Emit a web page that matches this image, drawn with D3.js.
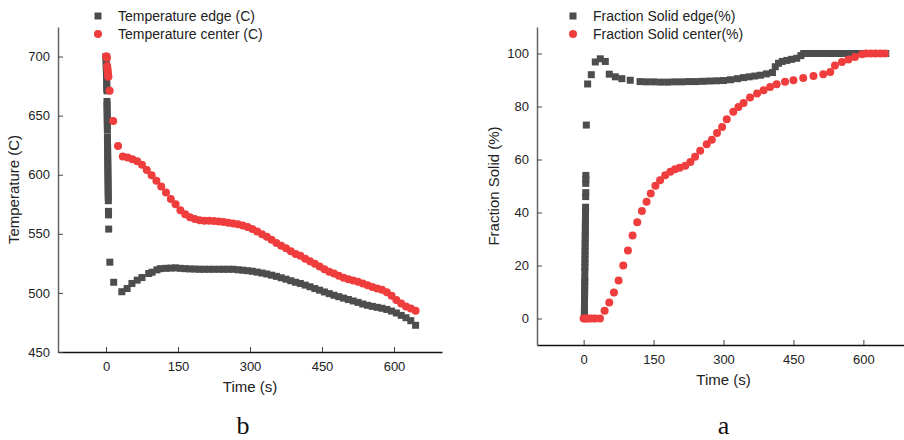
<!DOCTYPE html>
<meta charset="utf-8">
<script src="https://d3js.org/d3.v7.min.js"></script>
<style>
body { margin: 0; background: #fff; }
text { font-family: "Liberation Sans", Arial, sans-serif; fill: #222; }
.panel-tag { font-family: "Liberation Serif", "Times New Roman", serif; font-size: 26px; fill: #111; }
</style>
<body>
<svg id="chart" width="904" height="440"></svg>
<script>

// time (s), temperature (C) ------------------------------------
var tempEdge = [
  [0.0,700],[0.2,697],[0.4,694],[0.6,691],[0.8,688],[1.0,685],[1.2,682],[1.4,679],[1.6,676],[1.8,673],[2.0,671],
  [2.1,662],[2.2,659],[2.3,656],[2.4,653],[2.5,650],[2.6,647],[2.7,644],[2.8,641],[2.9,638],
  [3.0,632],[3.1,629],[3.2,626],[3.3,623],[3.4,620],[3.5,617],[3.6,614],[3.7,611],[3.8,608],[3.9,605],
  [4.0,602],[4.1,599],[4.2,596],[4.3,593],[4.4,590],[4.5,587],[4.6,584],[4.7,581],
  [4.9,578],[5.1,569],[5.3,566],[5.6,554],[8,526],[16,509],[33,501],
  [44,503.7],[54,508],[65,510.8],[75,513],[89,516.4],[96,517.5],[106,519.5],[113,520.5],[125,520.8],[135,521],
  [145,521.2],[155,520.8],[165,520.5],[175,520.3],[185,520.2],[195,520],[205,520],[215,520],[225,520],
  [235,520],[245,520],[255,520],[265,520],[275,519.6],[285,519.2],[295,518.8],[305,518.3],[315,517.6],
  [325,516.8],[335,516],[345,515],[355,514],[365,512.8],[375,511.6],[385,510.3],[395,509],[405,508],
  [415,506.6],[425,505.2],[435,503.7],[445,502.3],[455,500.8],[465,499.4],[475,498],[485,496.8],
  [495,495.6],[505,494.4],[515,493.2],[525,492],[535,490.6],[545,489.5],[555,488.6],[565,487.8],
  [575,487],[585,486],[595,484.6],[605,483],[615,481],[625,479],[635,476.5],[645,472.6]
];
var tempCenter = [
  [0,700],[1,700],[2,699],[2.5,692],[3,690],[3.5,688],[4,686],[4.5,684],[5,683],
  [7.5,671],[15,645.5],[25,624.3],[35,615.5],[45,614.5],[55,613.2],[65,611.5],[75,608.5],[85,604],
  [95,599.5],[105,595],[115,590],[125,585],[135,579.5],[145,575],[155,570],[165,566.5],[175,564],
  [185,562.5],[195,561.5],[205,561],[215,561],[225,560.8],[235,560.4],[245,560],[255,559.4],[265,558.8],
  [275,558],[285,557],[295,555.8],[305,554],[315,552],[325,549.7],[335,547.5],[345,545],[355,542.3],
  [365,540],[375,537.7],[385,535.3],[395,533],[405,531.5],[415,529],[425,526.7],[435,524.6],[445,522.4],
  [455,520],[465,518],[475,516.4],[485,514.5],[495,512.8],[505,511.5],[515,510.4],[525,509.4],[535,508],
  [545,506.5],[555,505],[565,503.7],[575,502.7],[585,500.5],[595,497.5],[605,494],[615,491],[625,488.5],
  [635,486.8],[645,484.8]
];

// time (s), fraction solid (%) ---------------------------------
var fracEdge = [
  [1.5,0.5],[1.6,2],[1.7,3.5],[1.8,5],[1.9,6.5],[2.0,8],[2.1,9.5],[2.2,11],[2.3,12.5],[2.4,14],[2.5,15.5],
  [2.6,18],[2.7,19.5],[2.8,21],[2.9,22.5],[3.0,24],[3.1,25.5],[3.2,27],[3.3,28.5],[3.4,30],[3.5,31.5],
  [3.6,33],[3.7,34.5],[3.8,36],[3.9,37.5],[4.0,39],[4.1,40.5],[4.2,42],[4.4,46],[4.5,47.5],
  [4.6,51],[4.7,52.5],[4.8,54],[5.8,73],[8.6,88.5],[16.5,92],[25,96.8],[35.7,98],[46.5,97],
  [55,92.2],[68,91.2],[82,90.5],[100,89.9],[121,89.4],[135,89.3],[150,89.3],[165,89.2],[180,89.2],
  [195,89.3],[210,89.3],[225,89.4],[240,89.4],[255,89.5],[270,89.6],[285,89.7],[300,89.8],[315,90.1],
  [330,90.5],[343,90.9],[355,91.2],[367,91.5],[379,91.8],[392,92.3],[405,92.8],[411,95],[418,96.3],
  [426,97],[436,97.4],[446,97.8],[457,98.2],[466,99.2],[472,100],[482,100],[492,100],[502,100],[512,100],
  [522,100],[532,100],[542,100],[552,100],[562,100],[572,100],[582,100],[592,100],[602,100],[612,100],
  [622,100],[632,100],[642,100],[648,100]
];
var fracCenter = [
  [0,0],[3,0],[7,0],[12,0],[18,0],[25,0],[35,0],[45,2.9],[55,6],[65,9.8],[75,14.3],[85,20],[95,25.7],
  [105,31.3],[115,36.3],[125,40.6],[135,44.1],[144,47.2],[154,50.1],[164,52.2],[175,54.1],[186,55.4],
  [196,56.3],[206,56.9],[218,57.6],[229,59.1],[239,61],[250,63.3],[264,65.8],[275,67.5],[286,70],
  [297,72.3],[307,75.2],[321,78],[332,79.8],[343,81.3],[357,83.4],[372,84.9],[386,86.1],[400,87.4],
  [414,88.4],[432,89.3],[450,89.9],[471,90.8],[493,91.5],[514,92.2],[529,93],[539,95.5],[554,96.8],
  [568,97.7],[582,98.7],[597,99.7],[606,100],[616,100],[626,100],[636,100],[646,100]
];

var xTicks = [0, 150, 300, 450, 600];
var tempTicks = [450, 500, 550, 600, 650, 700];
var fracTicks = [0, 20, 40, 60, 80, 100];

var grey = "#4d4d4d", red = "#ef3d3d";
var svg = d3.select("#chart");

function panel(o) {
  var g = svg.append("g");
  var x = d3.scaleLinear().domain([-100, 700]).range([o.left, o.right]);
  var y = d3.scaleLinear().domain(o.ydom).range([o.bottom, o.top]);

  // bottom axis, ticks pointing inward
  var xa = g.append("g")
    .attr("transform", "translate(0," + o.bottom + ")")
    .call(d3.axisBottom(x).tickValues(xTicks).tickSizeInner(-5).tickSizeOuter(0).tickPadding(10));
  xa.select(".domain").attr("stroke", "#111").attr("stroke-width", 1.5);
  xa.selectAll(".tick line").attr("stroke", "#444");
  xa.selectAll("text").style("font-size", "13px").attr("fill", "#222");

  var ya = g.append("g")
    .attr("transform", "translate(" + o.left + ",0)")
    .call(d3.axisLeft(y).tickValues(o.yticks).tickSizeInner(-5).tickSizeOuter(0).tickPadding(8));
  ya.select(".domain").attr("stroke", "#666").attr("stroke-width", 1.5);
  ya.selectAll(".tick line").attr("stroke", "#444");
  ya.selectAll("text").style("font-size", "13px").attr("fill", "#222");

  g.append("text")
    .attr("transform", "translate(" + o.ylabX + "," + ((o.top + o.bottom) / 2) + ") rotate(-90)")
    .attr("text-anchor", "middle").style("font-size", "15px")
    .text(o.ylabel);
  g.append("text")
    .attr("x", x(300)).attr("y", o.bottom + 40)
    .attr("text-anchor", "middle").style("font-size", "15px")
    .text("Time (s)");
  g.append("text").attr("class", "panel-tag")
    .attr("x", x(300) + o.tagDx).attr("y", 434)
    .attr("text-anchor", "middle")
    .text(o.tag);

  // squares for edge, circles for center
  g.append("g").selectAll("rect")
    .data(o.edge).enter().append("rect")
    .attr("x", function(d) { return x(d[0]) - 3.5; })
    .attr("y", function(d) { return y(d[1]) - 3.5; })
    .attr("width", 7).attr("height", 7)
    .attr("fill", grey);
  g.append("g").selectAll("circle")
    .data(o.center).enter().append("circle")
    .attr("cx", function(d) { return x(d[0]); })
    .attr("cy", function(d) { return y(d[1]); })
    .attr("r", 4)
    .attr("fill", red);

  // legend
  var lg = g.append("g").attr("transform", "translate(" + o.legX + ",16)");
  lg.append("rect").attr("x", -3.5).attr("y", -3.5).attr("width", 7).attr("height", 7).attr("fill", grey);
  lg.append("text").attr("x", 20).attr("y", 0).attr("dy", "0.35em").style("font-size", "14px").text(o.leg[0]);
  lg.append("circle").attr("cx", 0).attr("cy", 18).attr("r", 4).attr("fill", red);
  lg.append("text").attr("x", 20).attr("y", 18).attr("dy", "0.35em").style("font-size", "14px").text(o.leg[1]);
}

panel({
  left: 58, right: 442, top: 27, bottom: 352,
  ydom: [450, 725], yticks: tempTicks,
  edge: tempEdge, center: tempCenter,
  ylabel: "Temperature (C)", ylabX: 19, tag: "b", tagDx: -7, legX: 98,
  leg: ["Temperature edge (C)", "Temperature center (C)"]
});
panel({
  left: 537, right: 910, top: 27, bottom: 345,
  ydom: [-10, 110], yticks: fracTicks,
  edge: fracEdge, center: fracCenter,
  ylabel: "Fraction Solid (%)", ylabX: 499, tag: "a", tagDx: 0, legX: 573,
  leg: ["Fraction Solid edge(%)", "Fraction Solid center(%)"]
});

</script>
</body>
